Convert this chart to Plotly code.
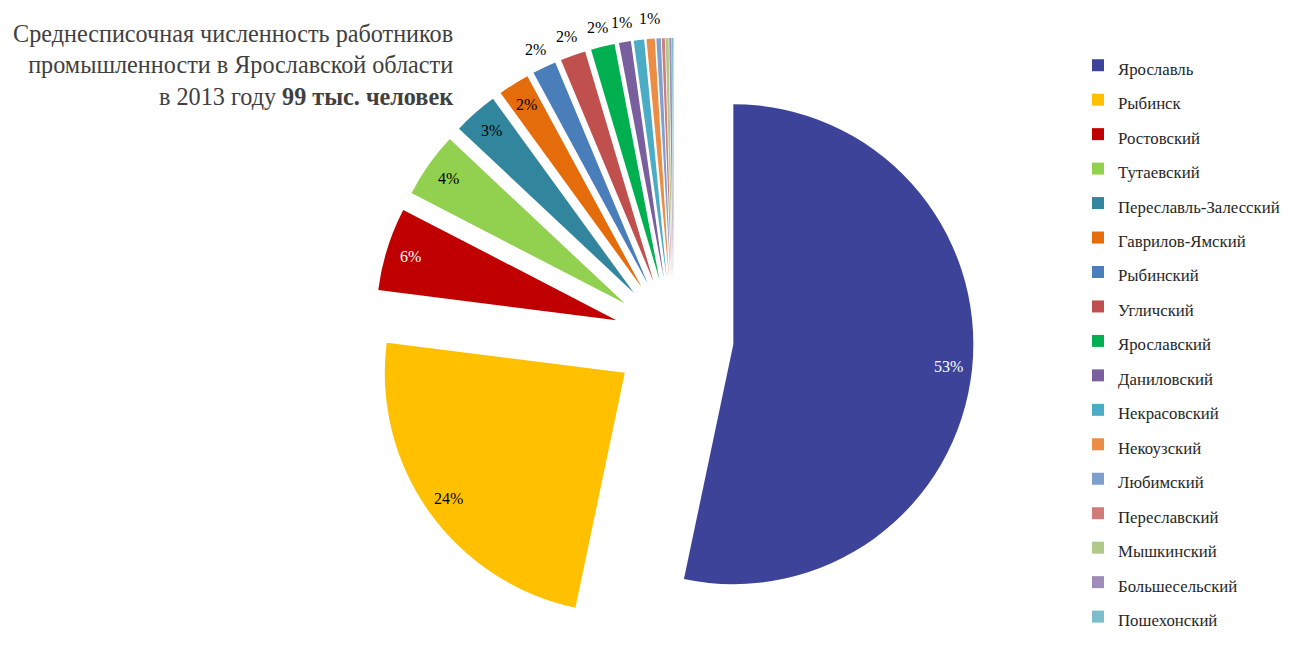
import math
import plotly.graph_objects as go

categories = ["Ярославль", "Рыбинск", "Ростовский", "Тутаевский", "Переславль-Залесский",
              "Гаврилов-Ямский", "Рыбинский", "Угличский", "Ярославский", "Даниловский",
              "Некрасовский", "Некоузский", "Любимский", "Переславский", "Мышкинский",
              "Большесельский", "Пошехонский"]
# share of the 99 thousand workers, %
values = [53.3, 23.7, 5.6, 4.4, 3.0, 2.1, 1.6, 1.7, 1.6, 0.8, 0.7, 0.55, 0.3, 0.2, 0.2, 0.15, 0.1]
colors = ["#3C4399", "#FFC000", "#C00000", "#92D050", "#31859C", "#E46C0A", "#4A7EBB",
          "#C0504D", "#00B050", "#7A5F9E", "#4BACC6", "#EC8D45", "#7F9FCF", "#CF7C7A",
          "#AEC98A", "#A08CBA", "#7BBCCD"]
inside_labels = ["Ярославль", "Рыбинск", "Ростовский", "Тутаевский",
                 "Переславль-Залесский", "Гаврилов-Ямский"]
outside_labels = ["Рыбинский", "Угличский", "Ярославский", "Даниловский", "Некоузский"]
white_text = ["Ярославль", "Ростовский"]

# the plot div fills the page inside the default 8px body margin
OFF = 8
W, H = 1290 - 2 * OFF, 646 - 2 * OFF
M_T, M_B = 30, 0
PULL = 0.25
DOM_X = [0.275, 0.77]
plot_h = H - M_T - M_B


def py(px):
    """paper y for a page pixel row"""
    return 1 - (px - OFF - M_T) / plot_h


def px_x(px):
    return (px - OFF) / W


fig = go.Figure(go.Pie(
    labels=[f'<span style="font-size:16.8px">{c}</span>' for c in categories],
    values=values,
    sort=False,
    direction="clockwise",
    rotation=0,
    pull=PULL,
    marker=dict(colors=colors, line=dict(width=0)),
    textinfo="none",
    domain=dict(x=DOM_X, y=[0, 1]),
    hovertext=categories,
    hoverinfo="text+percent",
))

# data labels, placed along each slice's middle angle from the data shares
r = min(W * (DOM_X[1] - DOM_X[0]), plot_h) / 2 / (1 + PULL)
total = sum(values)
cum = 0.0
for c, v in zip(categories, values):
    mid = (cum + v / 2) / total
    cum += v
    if c in inside_labels:
        dist = r * (PULL + 0.9)
    elif c in outside_labels:
        dist = r * (1 + PULL) + 20
    else:
        continue
    th = 2 * math.pi * mid
    fig.add_annotation(
        text=f"{round(v / total * 100)}%",
        xref="paper", yref="paper", x=(DOM_X[0] + DOM_X[1]) / 2, y=0.5,
        xshift=dist * math.sin(th), yshift=dist * math.cos(th),
        showarrow=False, xanchor="center", yanchor="middle",
        font=dict(family="Liberation Serif", size=16,
                  color="white" if c in white_text else "black"),
    )

fig.add_annotation(
    text="Среднесписочная численность работников<br>промышленности в Ярославской области<br>в 2013 году <b>99 тыс. человек</b>",
    xref="paper", yref="paper", x=px_x(455), y=py(17.5), xanchor="right", yanchor="top",
    align="right", showarrow=False,
    font=dict(family="Liberation Serif", size=24.2, color="#404040"),
)

fig.update_layout(
    margin=dict(l=0, r=0, t=M_T, b=M_B, autoexpand=False),
    paper_bgcolor="white",
    plot_bgcolor="white",
    showlegend=True,
    legend=dict(x=px_x(1078), y=py(43), xanchor="left", yanchor="top",
                font=dict(family="Liberation Serif", size=24.2, color="#262626"),
                bgcolor="rgba(0,0,0,0)"),
)

fig.write_html("out.html")
